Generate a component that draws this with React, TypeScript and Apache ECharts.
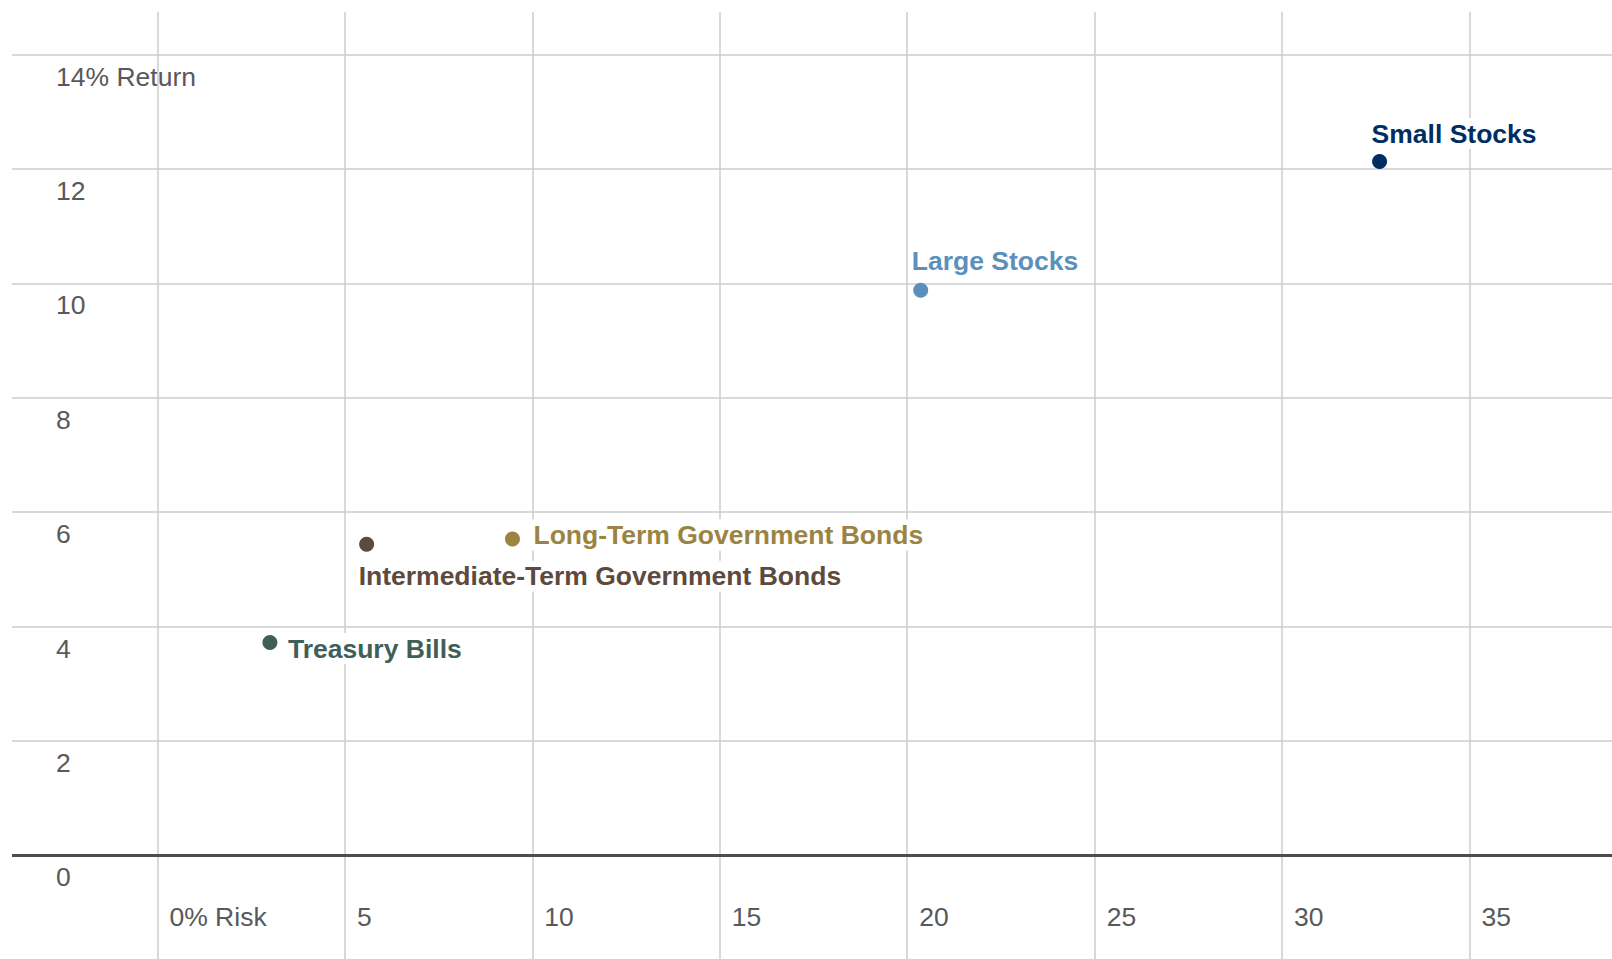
import React, { useEffect, useRef } from "react";
import * as echarts from "echarts";

const assetNames = [
  "Small Stocks",
  "Large Stocks",
  "Long-Term Government Bonds",
  "Intermediate-Term Government Bonds",
  "Treasury Bills",
];
const riskValues = [32.6, 20.36, 9.47, 5.58, 3.0];
const returnValues = [12.13, 9.88, 5.53, 5.44, 3.72];

const xTicks = [0, 5, 10, 15, 20, 25, 30, 35];
const xTickLabels = ["0% Risk", "5", "10", "15", "20", "25", "30", "35"];
const yTicks = [0, 2, 4, 6, 8, 10, 12, 14];
const yTickLabels = ["0", "2", "4", "6", "8", "10", "12", "14% Return"];

// styling (not data)
const pointColors = ["#002d62", "#5b8fbc", "#9b8442", "#5d4a3c", "#3f6059"];
const labelOffsets: [number, number][] = [
  [-10, -28],
  [-11, -29],
  [19, -4],
  [-10, 32],
  [16, 6],
];

const FONT = '"Liberation Sans", Arial, Helvetica, sans-serif';

export default function App() {
  const ref = useRef<HTMLDivElement>(null);
  useEffect(() => {
    if (!ref.current) return;
    const chart = echarts.init(ref.current, undefined, { renderer: "svg" });
    const points = assetNames.map((name, i) => ({
      name,
      value: [riskValues[i], returnValues[i]],
      itemStyle: { color: pointColors[i], opacity: 1 },
      label: {
        show: true,
        position: "inside",
        align: "left",
        verticalAlign: "middle",
        offset: labelOffsets[i],
        formatter: name,
        color: pointColors[i],
        fontSize: 26.5,
        fontWeight: "bold",
        fontFamily: FONT,
        backgroundColor: "#ffffff",
        padding: [2, 2],
      },
    }));
    chart.setOption({
      animation: false,
      backgroundColor: "#ffffff",
      grid: { left: 12, top: 12, right: 0, bottom: 0, containLabel: false },
      xAxis: {
        type: "value",
        min: -3.88,
        max: 38.8,
        axisLine: { show: false, onZero: false },
        axisTick: { show: false },
        splitLine: { show: false },
        axisLabel: {
          customValues: xTicks,
          inside: true,
          margin: 42,
          align: "left",
          verticalAlign: "middle",
          padding: [0, 0, 0, 12],
          color: "#58595b",
          fontSize: 26.5,
          fontFamily: FONT,
          formatter: (v: number) => {
            const i = xTicks.indexOf(v);
            return i >= 0 ? xTickLabels[i] : "";
          },
        },
      },
      yAxis: {
        type: "value",
        min: -1.814,
        max: 14.745,
        axisLine: { show: false, onZero: false },
        axisTick: { show: false },
        splitLine: { show: false },
        axisLabel: {
          customValues: yTicks,
          inside: true,
          margin: 44,
          align: "left",
          verticalAlign: "top",
          lineHeight: 44,
          color: "#58595b",
          fontSize: 26.5,
          fontFamily: FONT,
          formatter: (v: number) => {
            const i = yTicks.indexOf(v);
            return i >= 0 ? yTickLabels[i] : "";
          },
        },
      },
      series: [
        {
          type: "line",
          data: [],
          z: 1,
          silent: true,
          markLine: {
            z: 1,
            silent: true,
            symbol: "none",
            label: { show: false },
            lineStyle: { color: "#cccccc", width: 1.5, type: "solid" },
            data: [
              ...xTicks.map((v) => ({ xAxis: v })),
              ...yTicks.filter((v) => v !== 0).map((v) => ({ yAxis: v })),
            ],
          },
        },
        {
          type: "line",
          data: [],
          z: 2,
          silent: true,
          markLine: {
            z: 2,
            silent: true,
            symbol: "none",
            label: { show: false },
            lineStyle: { color: "#4d4d4f", width: 3, type: "solid" },
            data: [{ yAxis: 0 }],
          },
        },
        {
          type: "scatter",
          z: 10,
          symbol: "circle",
          symbolSize: 15,
          itemStyle: { opacity: 1 },
          data: points,
        },
      ],
    });
    return () => chart.dispose();
  }, []);
  return (
    <div
      ref={ref}
      style={{ position: "absolute", left: 0, top: 0, width: 1612, height: 959 }}
    />
  );
}
